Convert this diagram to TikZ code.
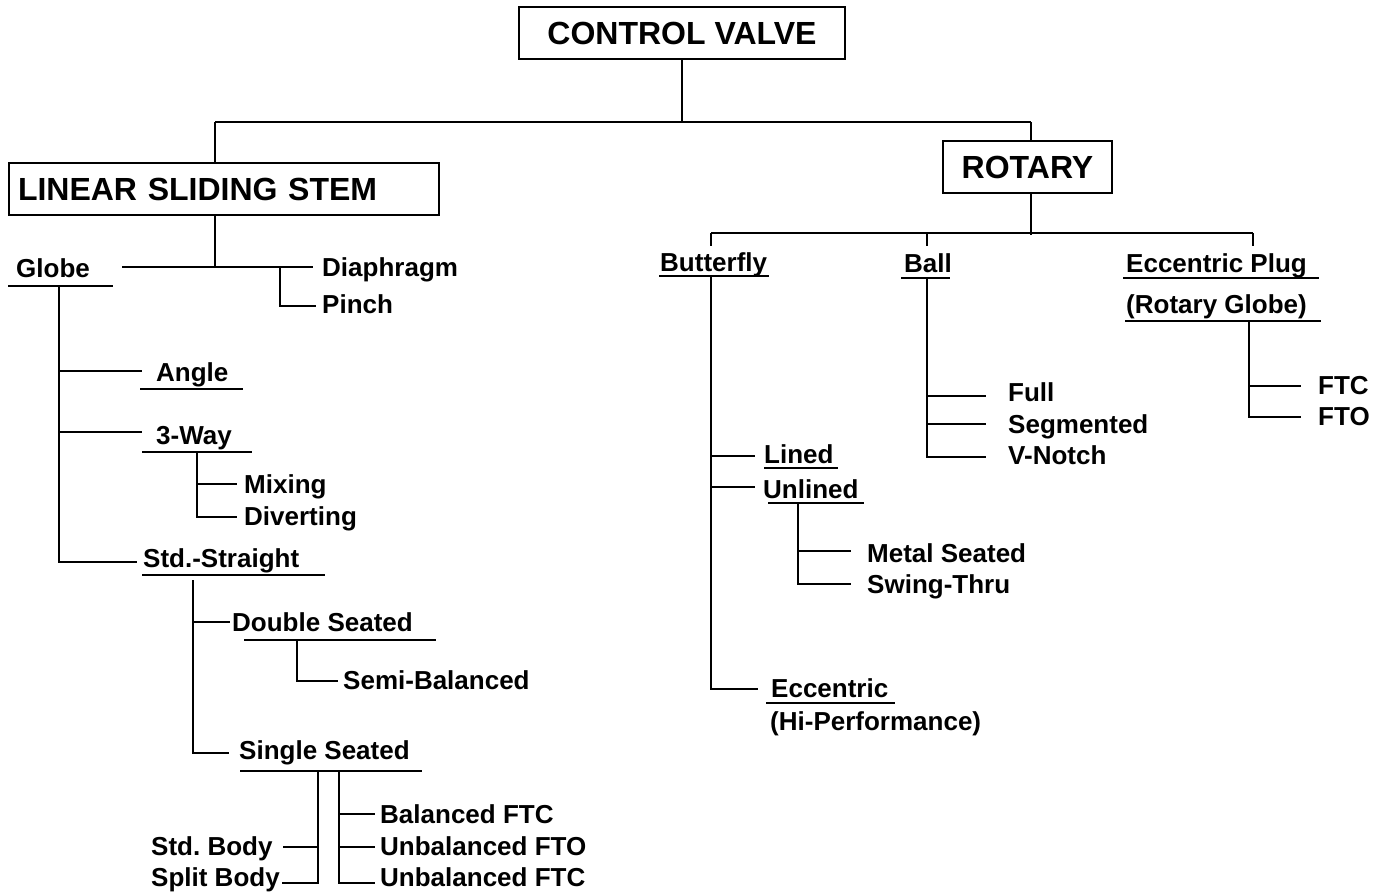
\documentclass[tikz,border=0pt]{standalone}
\usepackage{fontspec}
\setmainfont{Liberation Sans}
\frenchspacing
\begin{document}
\begin{tikzpicture}[x=1pt,y=-1pt]
\tikzset{
  ln/.style={line width=2.3pt},
  box/.style={draw, line width=2.3pt, minimum height=52pt, inner sep=0pt,
    font=\bfseries\fontsize{32}{38}\selectfont, text height=23pt, text depth=0pt},
  lbl/.style={anchor=base west, inner sep=0pt, font=\bfseries\fontsize{26}{31}\selectfont},
}
\fill[white] (0,0) rectangle (1385,895);
\useasboundingbox (0,0) rectangle (1385,895);

% ---------- boxes ----------
\node[box, minimum width=326pt] (cv) at (682,33) {CONTROL VALVE};
\node[box, minimum width=430pt, text width=412pt, align=left] (lss) at (224,189) {LINEAR SLIDING STEM};
\node[box, minimum width=169pt] (rot) at (1027.5,167) {ROTARY};

% ---------- labels ----------
\node[lbl] (globe) at (16,277) {Globe};
\node[lbl] (diaph) at (322,276) {Diaphragm};
\node[lbl] (pinch) at (322,313) {Pinch};
\node[lbl] (angle) at (156,381) {Angle};
\node[lbl] (threeway) at (156,444) {3-Way};
\node[lbl] (mixing) at (244,493) {Mixing};
\node[lbl] (diverting) at (244,525) {Diverting};
\node[lbl] (stdstr) at (143,567) {Std.-Straight};
\node[lbl] (double) at (232,631) {Double Seated};
\node[lbl] (semi) at (343,689) {Semi-Balanced};
\node[lbl] (single) at (239,759) {Single Seated};
\node[lbl] (balftc) at (380,823) {Balanced FTC};
\node[lbl] (unfto) at (380,855) {Unbalanced FTO};
\node[lbl] (unftc) at (380,886) {Unbalanced FTC};
\node[lbl] (stdbody) at (151,855) {Std. Body};
\node[lbl] (splitbody) at (151,886) {Split Body};

\node[lbl] (butterfly) at (660,271) {Butterfly};
\node[lbl] (ball) at (904,272) {Ball};
\node[lbl] (eccplug) at (1126,272) {Eccentric Plug};
\node[lbl] (rotglobe) at (1126,313) {(Rotary Globe)};
\node[lbl] (full) at (1008,401) {Full};
\node[lbl] (segmented) at (1008,433) {Segmented};
\node[lbl] (vnotch) at (1008,464) {V-Notch};
\node[lbl] (ftc) at (1318,394) {FTC};
\node[lbl] (fto) at (1318,425) {FTO};
\node[lbl] (lined) at (764,463) {Lined};
\node[lbl] (unlined) at (763,498) {Unlined};
\node[lbl] (metal) at (867,562) {Metal Seated};
\node[lbl] (swing) at (867,593) {Swing-Thru};
\node[lbl] (eccentric) at (771,697) {Eccentric};
\node[lbl] (hiperf) at (770,730) {(Hi-Performance)};

% ---------- underlines ----------
\draw[ln] (8,286) -- (113,286);
\draw[ln] (140,389) -- (243,389);
\draw[ln] (142,452) -- (252,452);
\draw[ln] (142,575) -- (325,575);
\draw[ln] (244,640) -- (436,640);
\draw[ln] (240,771) -- (422,771);
\draw[ln] (659,276) -- (769,276);
\draw[ln] (901,278) -- (950,278);
\draw[ln] (1123,278) -- (1319,278);
\draw[ln] (1125,321) -- (1321,321);
\draw[ln] (764,468) -- (838,468);
\draw[ln] (768,503) -- (864,503);
\draw[ln] (766,703) -- (895,703);

% ---------- junction coordinates ----------
\coordinate (top) at (682,122);
\coordinate (jl) at (215,122);
\coordinate (jr) at (1031,122);
\coordinate (gj) at (215,267);
\coordinate (gl) at (122,267);
\coordinate (gr) at (313,267);
\coordinate (dj) at (280,267);
\coordinate (pj) at (316,306);
\coordinate (gv) at (59,286);
\coordinate (gv2) at (59,562);
\coordinate (tw) at (197,452);
\coordinate (sv) at (193,580);
\coordinate (dv) at (297,640);
\coordinate (s1) at (318,771);
\coordinate (s2) at (339,771);
\coordinate (rj) at (1031,233);
\coordinate (rl) at (711,233);
\coordinate (rr) at (1253,233);
\coordinate (bv) at (711,276);
\coordinate (uv) at (798,503);
\coordinate (ballv) at (927,278);
\coordinate (rgv) at (1249,321);

% ---------- connectors ----------
\draw[ln] (cv.south -| top) -- (top);
\draw[ln] (jl) -- (jr);
\draw[ln] (jl) -- (jl |- lss.north);
\draw[ln] (jr) -- (jr |- rot.north);

% linear sliding stem
\draw[ln] (jl |- lss.south) -- (gj);
\draw[ln] (gl) -- (gr);
\draw[ln] (dj) -- (dj |- pj) -- (pj);
\draw[ln] (gv) -- (gv2) -- (137,562);
\draw[ln] (59,371) -- (142,371);
\draw[ln] (59,432) -- (142,432);
\draw[ln] (tw) -- (197,517) -- (237,517);
\draw[ln] (197,484) -- (237,484);
\draw[ln] (sv) -- (193,753) -- (229,753);
\draw[ln] (193,622) -- (230,622);
\draw[ln] (dv) -- (297,681) -- (338,681);
\draw[ln] (s1) -- (318,883) -- (282,883);
\draw[ln] (283,847) -- (318,847);
\draw[ln] (s2) -- (339,883) -- (375,883);
\draw[ln] (339,814) -- (375,814);
\draw[ln] (339,847) -- (375,847);

% rotary
\draw[ln] (rot.south -| rj) -- (1031,235);
\draw[ln] (rl) -- (rr);
\draw[ln] (rl) -- (711,246);
\draw[ln] (927,233) -- (927,246);
\draw[ln] (rr) -- (1253,246);
\draw[ln] (bv) -- (711,689) -- (758,689);
\draw[ln] (711,456) -- (755,456);
\draw[ln] (711,487) -- (755,487);
\draw[ln] (uv) -- (798,584) -- (851,584);
\draw[ln] (798,551) -- (851,551);
\draw[ln] (ballv) -- (927,457) -- (986,457);
\draw[ln] (927,396) -- (986,396);
\draw[ln] (927,424) -- (986,424);
\draw[ln] (rgv) -- (1249,417) -- (1301,417);
\draw[ln] (1249,386) -- (1301,386);
\end{tikzpicture}
\end{document}
